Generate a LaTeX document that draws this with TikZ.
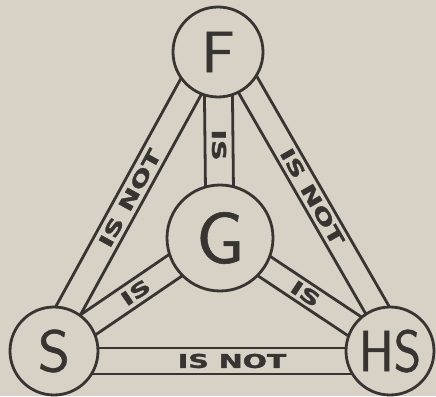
\documentclass[tikz,border=0pt]{standalone}
\usepackage{fontspec}
\usepackage{graphicx}
\usepackage{tikz}
\usetikzlibrary{calc}
\newfontfamily\bandfont[FakeBold=1.5]{DejaVu Sans}
\newfontfamily\letterfont[FakeBold=0.8]{lmsans10-regular.otf}
\definecolor{paper}{RGB}{216,210,198}
\definecolor{ink}{RGB}{55,52,49}
\pgfdeclarelayer{background}
\pgfsetlayers{background,main}

% band between two circles: from, to, offset, half width, label, pos
\newcommand{\band}[6]{%
  \draw[bandline] ($(#1.center)!{#3pt+#4pt}!90:(#2.center)$) -- ($(#2.center)!{#3pt+#4pt}!-90:(#1.center)$);
  \draw[bandline] ($(#1.center)!{#3pt-#4pt}!90:(#2.center)$) -- ($(#2.center)!{#3pt-#4pt}!-90:(#1.center)$);
  \path ($(#1.center)!#3pt!90:(#2.center)$) -- ($(#2.center)!#3pt!-90:(#1.center)$)
    node[bandtext, sloped, pos=#6] {\scalebox{1.5}[1]{#5}};
}

\begin{document}
\begin{tikzpicture}[x=1pt, y=1pt,
    bandline/.style={ink, line width=2.8pt},
    person/.style={circle, draw=ink, fill=paper, line width=2.8pt, inner sep=0pt,
      text=ink, font=\letterfont\fontsize{58}{58}\selectfont},
    bandtext/.style={text=ink, inner sep=0pt, font=\bandfont\bfseries\fontsize{19}{19}\selectfont}]

    \useasboundingbox (0,0) rectangle (436,396);

    % The four circles
    \node[person, minimum size=90] (F) at (218,344) {F};
    \node[person, minimum size=106, font=\letterfont\fontsize{72}{72}\selectfont] (G) at (220,158) {G};
    \node[person, minimum size=88] (S) at (54,45) {S};
    \node[person, minimum size=88] (HS) at (390,45) {\scalebox{0.85}[1]{HS}};

    \begin{pgfonlayer}{background}
      \fill[paper] (0,0) rectangle (436,396);

      % Outer triangle
      \band{S}{F}{7}{12.8}{IS NOT}{0.5}
      \band{F}{HS}{9.5}{12}{IS NOT}{0.5}
      \band{HS}{S}{10}{13}{IS NOT}{0.47}

      % Spokes to the centre
      \band{G}{F}{0}{14}{IS}{0.5}
      \band{S}{G}{2.5}{12.5}{IS}{0.5}
      \band{G}{HS}{1}{11.5}{IS}{0.5}
    \end{pgfonlayer}

\end{tikzpicture}
\end{document}
